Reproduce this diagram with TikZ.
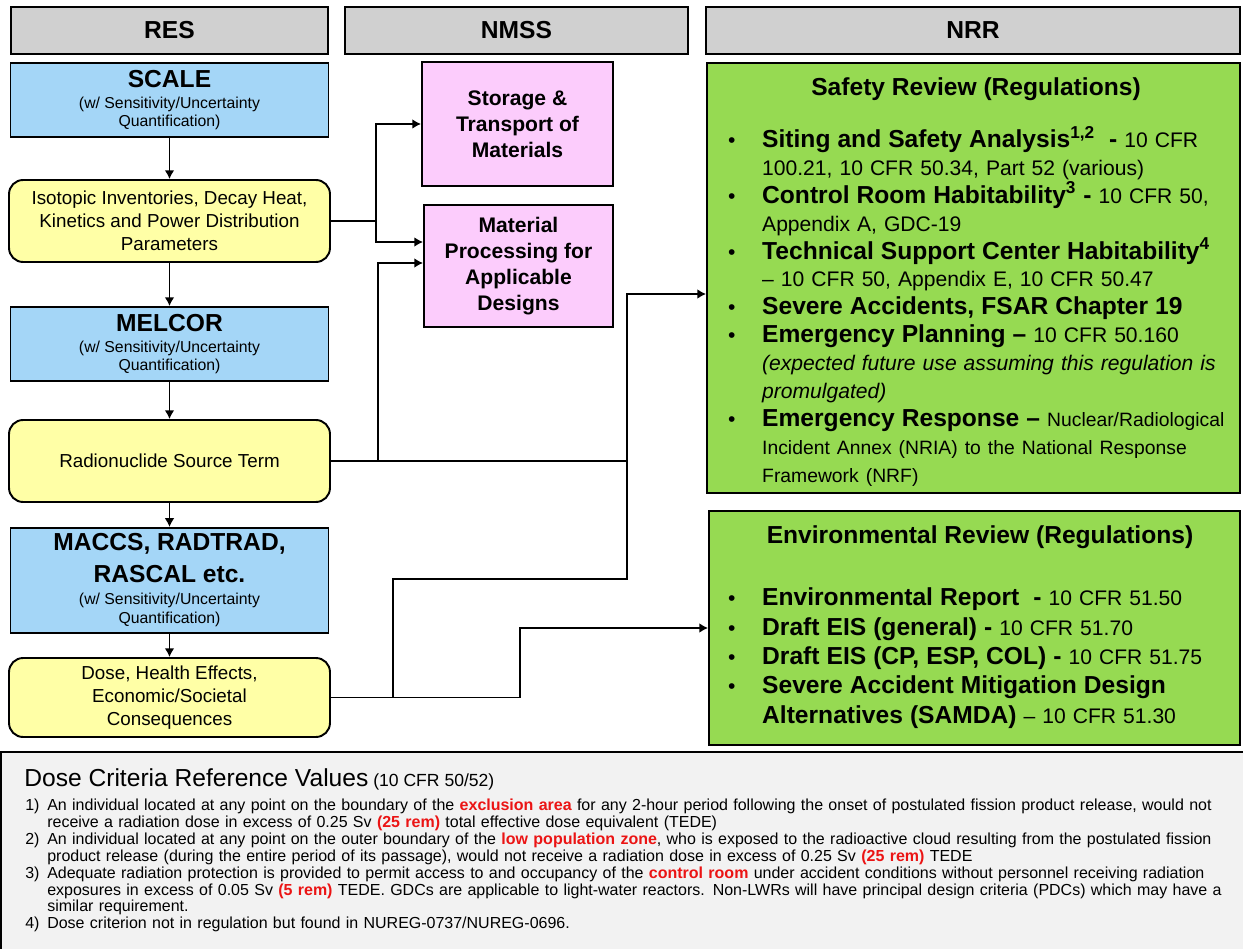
\documentclass[tikz,border=0pt]{standalone}
\usepackage{fontspec}
\setmainfont{Liberation Sans}
\usepackage{xcolor}
\usepackage{tikz}
\usetikzlibrary{arrows.meta,positioning,calc}

\definecolor{hdrgray}{RGB}{208,208,208}
\definecolor{codeblue}{RGB}{164,214,247}
\definecolor{outyellow}{RGB}{255,255,166}
\definecolor{nmsspink}{RGB}{252,204,252}
\definecolor{nrrgreen}{RGB}{150,218,82}
\definecolor{notegray}{RGB}{242,242,242}
\definecolor{alertred}{RGB}{235,20,20}

\newcommand{\fs}[2]{\fontsize{#1}{#2}\selectfont}
\newcommand{\bigt}[1]{{\fs{14}{17}\bfseries #1}}
\newcommand{\bigb}[1]{{\fontsize{14}{16}\selectfont\bfseries #1}}
\newcommand{\hot}[1]{{\bfseries\color{alertred}#1}}
\newcommand{\nrritem}[1]{\par\hangindent=20.4pt\hangafter=1\noindent\makebox[20.4pt][l]{\hspace{1pt}\textbullet}#1}
\newcommand{\noteitem}[2]{\par\hangindent=12.5pt\hangafter=1\noindent\makebox[12.5pt][l]{#1}#2}

\begin{document}
\begin{tikzpicture}[
        x=0.02cm, y=-0.02cm,
        header/.style={rectangle, draw=black, line width=1.1pt, fill=hdrgray, minimum height=0.94cm, font=\fs{14}{17}\bfseries},
        code/.style={rectangle, draw=black, line width=1.1pt, fill=codeblue, minimum width=6.36cm, align=center, font=\fs{9}{10.3}},
        output/.style={rectangle, rounded corners=8pt, draw=black, line width=1.1pt, fill=outyellow, minimum width=6.42cm, align=center, font=\fs{10.7}{13.1}},
        nmssbox/.style={rectangle, draw=black, line width=1.1pt, fill=nmsspink, align=center, font=\fs{12}{14.7}\bfseries},
        review/.style={rectangle, draw=black, line width=1.1pt, fill=nrrgreen},
        link/.style={line width=0.85pt},
        arrow/.style={->, >={Latex[length=5pt,width=5.5pt]}, line width=0.85pt}
    ]
    \useasboundingbox (0,0) rectangle (1243,949);

    % Office headers
    \node[header, minimum width=6.34cm] (res) at (169.5,30.5) {RES};
    \node[header, minimum width=6.86cm] (nmss) at (516.5,30.5) {NMSS};
    \node[header, minimum width=10.68cm] (nrr) at (973,30.5) {NRR};

    % RES codes and outputs
    \node[code, minimum height=1.48cm] (scale) at (169.5,100) {\bigt{SCALE}\\[1.5pt](w/ Sensitivity/Uncertainty\\Quantification)};
    \node[output, minimum height=1.64cm] (iso) at (169.5,221) {Isotopic Inventories, Decay Heat,\\Kinetics and Power Distribution\\Parameters};
    \node[code, minimum height=1.48cm] (melcor) at (169.5,344) {\bigt{MELCOR}\\[1.5pt](w/ Sensitivity/Uncertainty\\Quantification)};
    \node[output, minimum height=1.64cm] (rad) at (169.5,461) {Radionuclide Source Term};
    \node[code, minimum height=2.1cm, font=\fs{9}{11.3}] (maccs) at (169.5,580.5) {\bigt{MACCS, RADTRAD,}\\[5pt]\bigt{RASCAL etc.}\\[1pt](w/ Sensitivity/Uncertainty\\Quantification)};
    \node[output, minimum height=1.58cm] (dose) at (169.5,697.5) {Dose, Health Effects,\\Economic/Societal\\Consequences};

    % NMSS
    \node[nmssbox, minimum width=3.82cm, minimum height=2.48cm] (store) at (517.5,124) {Storage \&\\Transport of\\Materials};
    \node[nmssbox, minimum width=3.78cm, minimum height=2.44cm] (mat) at (518.5,266) {Material\\Processing for\\Applicable\\Designs};

    % NRR reviews
    \node[review, minimum width=10.66cm, minimum height=8.6cm] (safety) at (973.5,278) {};
    \node[font=\fs{14}{17}\bfseries] (safetytitle) at (976,89) {Safety Review (Regulations)};
    \node[anchor=north west, text width=10.1cm, inner sep=0pt, font=\fs{12}{15.9}] (safetylist) at (726,119) {\raggedright
        \nrritem{\bigb{Siting and Safety Analysis\textsuperscript{1,2}\ \ -} 10 CFR\newline 100.21, 10 CFR 50.34, Part 52 (various)}
        \nrritem{\bigb{Control Room Habitability\textsuperscript{3} -} 10 CFR 50,\newline Appendix A, GDC-19}
        \nrritem{\bigb{Technical Support Center Habitability\textsuperscript{4}}\newline -- 10 CFR 50, Appendix E, 10 CFR 50.47}
        \nrritem{\bigb{Severe Accidents, FSAR Chapter 19}}
        \nrritem{\bigb{Emergency Planning --} 10 CFR 50.160\newline \textit{(expected future use assuming this regulation is}\newline \textit{promulgated)}}
        \nrritem{\bigb{Emergency Response --} {\fontsize{11}{15.9}\selectfont Nuclear/Radiological\newline Incident Annex (NRIA) to the National Response\newline Framework (NRF)}}\par};

    \node[review, minimum width=10.62cm, minimum height=4.68cm] (env) at (974.5,628) {};
    \node[font=\fs{14}{17}\bfseries] (envtitle) at (980,537) {Environmental Review (Regulations)};
    \node[anchor=north west, text width=10.1cm, inner sep=0pt, font=\fs{12}{16.7}] (envlist) at (726,576) {\raggedright
        \nrritem{\bigb{Environmental Report\ \ -} 10 CFR 51.50}
        \nrritem{\bigb{Draft EIS (general) -} 10 CFR 51.70}
        \nrritem{\bigb{Draft EIS (CP, ESP, COL) -} 10 CFR 51.75}
        \nrritem{\bigb{Severe Accident Mitigation Design}\newline \bigb{Alternatives (SAMDA)} -- 10 CFR 51.30}\par};

    % Down arrows in the RES column
    \draw[arrow] (scale) -- (iso);
    \draw[arrow] (iso) -- (melcor);
    \draw[arrow] (melcor) -- (rad);
    \draw[arrow] (rad) -- (maccs);
    \draw[arrow] (maccs) -- (dose);

    % Feeds to NMSS and NRR
    \coordinate (isojoin) at (iso.east -| 376,0);
    \draw[link] (iso.east) -- (isojoin);
    \draw[arrow] (isojoin) |- (store.west);
    \draw[arrow] (isojoin) |- ([yshift=0.48cm]mat.west);

    \coordinate (radjoin) at (rad.east -| 378,0);
    \coordinate (safejoin) at (rad.east -| 627,0);
    \draw[link] (rad.east) -- (safejoin);
    \draw[arrow] (radjoin) |- ([yshift=0.06cm]mat.west);
    \draw[arrow] (safejoin) |- ([yshift=-0.32cm]safety.west);

    \coordinate (dosejoin) at (dose.east -| 393,0);
    \coordinate (envjoin) at (dose.east -| 520,0);
    \coordinate (upjoin) at (627,579);
    \draw[link] (dose.east) -- (envjoin);
    \draw[link] (dosejoin) |- (upjoin) -- (safejoin);
    \draw[arrow] (envjoin) |- (env.west);

    % Dose criteria notes
    \fill[notegray] (0,752) rectangle (1243,949);
    \draw[line width=1.1pt] (1,949) -- (1,752) -- (1243,752);
    \node[anchor=base west, inner sep=0pt] (notetitle) at (24,786) {{\fs{14}{16}Dose Criteria Reference Values} {\fs{10}{12}(10 CFR 50/52)}};
    \node[anchor=north west, text width=24.3cm, inner sep=0pt, font=\fs{9.1}{9.6}] (notelist) at (25,793.5) {\raggedright
        \noteitem{1)}{An individual located at any point on the boundary of the \hot{exclusion area} for any 2-hour period following the onset of postulated fission product release, would not\newline receive a radiation dose in excess of 0.25 Sv \hot{(25 rem)} total effective dose equivalent (TEDE)}
        \noteitem{2)}{An individual located at any point on the outer boundary of the \hot{low population zone}, who is exposed to the radioactive cloud resulting from the postulated fission\newline product release (during the entire period of its passage), would not receive a radiation dose in excess of 0.25 Sv \hot{(25 rem)} TEDE}
        \noteitem{3)}{Adequate radiation protection is provided to permit access to and occupancy of the \hot{control room} under accident conditions without personnel receiving radiation\newline exposures in excess of 0.05 Sv \hot{(5 rem)} TEDE. GDCs are applicable to light-water reactors. Non-LWRs will have principal design criteria (PDCs) which may have a\newline similar requirement.}
        \noteitem{4)}{Dose criterion not in regulation but found in NUREG-0737/NUREG-0696.}\par};

\end{tikzpicture}
\end{document}
